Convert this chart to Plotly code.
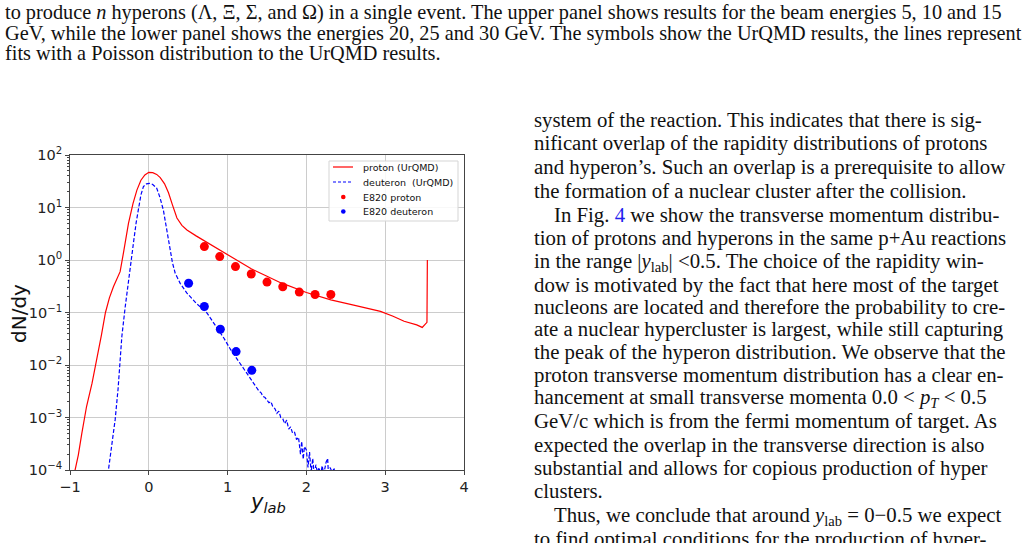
import plotly.graph_objects as go

# ---------------- data ----------------
proton_y = [-0.95, -0.936, -0.894, -0.85, -0.79, -0.72, -0.66, -0.60, -0.55, -0.50, -0.449, -0.40,
            -0.364, -0.32, -0.28, -0.258, -0.20, -0.151, -0.10, -0.05, 0.0, 0.05, 0.10, 0.145, 0.20,
            0.25, 0.30, 0.357, 0.42, 0.484, 0.60, 0.70, 0.85, 1.00, 1.15, 1.30, 1.50, 1.672, 2.00,
            2.31, 2.60, 2.94, 3.10, 3.24, 3.40, 3.47, 3.53, 3.535]
proton_dndy = [7.9e-5, 1.0e-4, 1.95e-4, 5.0e-4, 1.62e-3, 4.5e-3, 1.26e-2, 3.8e-2, 0.10, 0.19, 0.31, 0.45,
               0.60, 1.41, 3.3, 5.0, 12.0, 21.4, 33.1, 41.7, 46.8, 46.2, 42.7, 37.2, 28.2,
               19.1, 11.2, 6.3, 4.57, 3.72, 2.88, 2.34, 1.74, 1.29, 0.93, 0.68, 0.49, 0.37, 0.24,
               0.174, 0.138, 0.105, 0.085, 0.068, 0.058, 0.052, 0.065, 1.0]

deuteron_y = [-0.53, -0.512, -0.47, -0.427, -0.39, -0.364, -0.342, -0.30, -0.258, -0.22, -0.19, -0.16,
              -0.13, -0.10, -0.068, -0.03, 0.01, 0.05, 0.10, 0.14, 0.185, 0.23, 0.27, 0.30, 0.335,
              0.40, 0.484, 0.60, 0.738, 0.85, 0.95, 1.035, 1.15, 1.248, 1.30, 1.35, 1.40, 1.425,
              1.45, 1.475, 1.50, 1.525, 1.55, 1.575, 1.60, 1.625, 1.65, 1.675, 1.70, 1.725, 1.75,
              1.775, 1.80, 1.825, 1.85, 1.875, 1.90, 1.925, 1.94, 1.96, 1.975, 2.00, 2.02, 2.04,
              2.06, 2.08, 2.10, 2.12, 2.14, 2.16, 2.18, 2.20, 2.22, 2.25, 2.27, 2.28, 2.30, 2.33,
              2.35, 2.37]
deuteron_dndy = [6.3e-5, 1.0e-4, 3.2e-4, 9.1e-4, 3.5e-3, 1.1e-2, 3.5e-2, 0.126, 0.42, 1.0, 2.4, 5.2,
                 10.5, 17.4, 25.1, 28.2, 28.8, 27.5, 23.4, 15.8, 8.9, 3.8, 1.55, 0.89, 0.56,
                 0.355, 0.234, 0.151, 0.098, 0.056, 0.033, 0.020, 0.0112, 6.6e-3, 5.0e-3, 3.9e-3, 3.16e-3, 2.95e-3,
                 2.51e-3, 2.40e-3, 2.19e-3, 1.91e-3, 2.0e-3, 1.58e-3, 1.48e-3, 1.20e-3, 1.32e-3, 1.0e-3, 9.5e-4, 7.6e-4, 8.9e-4,
                 6.0e-4, 6.6e-4, 5.0e-4, 5.2e-4, 3.8e-4, 4.2e-4, 2.0e-4, 3.5e-4, 1.6e-4, 2.8e-4, 2.4e-4, 1.12e-4, 2.2e-4,
                 8.9e-5, 1.66e-4, 7.9e-5, 1.26e-4, 8.9e-5, 1.12e-4, 7.9e-5, 1.2e-4, 8.3e-5, 1.41e-4, 1.66e-4, 7.9e-5, 1.12e-4, 8.9e-5,
                 1.1e-4, 6.3e-5]

e820_proton_y = [0.705, 0.90, 1.10, 1.30, 1.50, 1.70, 1.91, 2.11, 2.31]
e820_proton_dndy = [1.80, 1.16, 0.75, 0.54, 0.38, 0.31, 0.245, 0.22, 0.22]

e820_deuteron_y = [0.505, 0.705, 0.908, 1.108, 1.307]
e820_deuteron_dndy = [0.36, 0.13, 0.048, 0.018, 0.0079]

x_ticks = [-1, 0, 1, 2, 3, 4]
x_tick_labels = ["\u22121", "0", "1", "2", "3", "4"]
y_ticks = [1e-4, 1e-3, 1e-2, 1e-1, 1e0, 1e1, 1e2]
y_tick_labels = ["10<sup>\u22124</sup>", "10<sup>\u22123</sup>", "10<sup>\u22122</sup>",
                 "10<sup>\u22121</sup>", "10<sup>0</sup>", "10<sup>1</sup>", "10<sup>2</sup>"]
y_minor = [m * 10.0 ** e for e in range(-4, 2) for m in range(2, 10)]

caption_lines = [
    "to produce <i>n</i> hyperons (\u039b, \u039e, \u03a3, and \u03a9) in a single event. The upper panel shows results for the beam energies 5, 10 and 15",
    "GeV, while the lower panel shows the energies 20, 25 and 30 GeV. The symbols show the UrQMD results, the lines represent",
    "fits with a Poisson distribution to the UrQMD results.",
]
body_lines = [
    "system of the reaction. This indicates that there is sig-",
    "nificant overlap of the rapidity distributions of protons",
    "and hyperon\u2019s. Such an overlap is a prerequisite to allow",
    "the formation of a nuclear cluster after the collision.",
    "In Fig. <span style='color:#2222ee'>4</span> we show the transverse momentum distribu-",
    "tion of protons and hyperons in the same p+Au reactions",
    "in the range |<i>y</i><sub>lab</sub>| &lt;0.5. The choice of the rapidity win-",
    "dow is motivated by the fact that here most of the target",
    "nucleons are located and therefore the probability to cre-",
    "ate a nuclear hypercluster is largest, while still capturing",
    "the peak of the hyperon distribution. We observe that the",
    "proton transverse momentum distribution has a clear en-",
    "hancement at small transverse momenta 0.0 &lt; <i>p</i><sub><i>T</i></sub> &lt; 0.5",
    "GeV/c which is from the fermi momentum of target. As",
    "expected the overlap in the transverse direction is also",
    "substantial and allows for copious production of hyper",
    "clusters.",
    "Thus, we conclude that around <i>y</i><sub>lab</sub> = 0\u22120.5 we expect",
    "to find optimal conditions for the production of hyper-",
]
body_y = [120, 143.5, 167, 190, 214.5, 238, 261.5, 284.5, 306.5, 328.5, 351.5, 375, 398,
          421, 445, 468, 490.5, 515.5, 539]
body_indent = [0, 0, 0, 0, 1, 0, 0, 0, 0, 0, 0, 0, 0, 0, 0, 0, 0, 1, 0]

# ---------------- layout geometry ----------------
W, H = 1028, 543
L, R, T, B = 70, 464, 155, 470


def px(x, y):
    return (x - L) / (R - L), (B - y) / (B - T)


fig = go.Figure()
fig.add_trace(go.Scatter(x=proton_y, y=proton_dndy, mode="lines", name="proton (UrQMD)",
                         line=dict(color="#ff0000", width=1.2), showlegend=False))
fig.add_trace(go.Scatter(x=deuteron_y, y=deuteron_dndy, mode="lines", name="deuteron  (UrQMD)",
                         line=dict(color="#0000ff", width=1.2, dash="4px,2px"), showlegend=False))
fig.add_trace(go.Scatter(x=e820_proton_y, y=e820_proton_dndy, mode="markers", name="E820 proton",
                         marker=dict(color="#ff0000", size=9), showlegend=False))
fig.add_trace(go.Scatter(x=e820_deuteron_y, y=e820_deuteron_dndy, mode="markers", name="E820 deuteron",
                         marker=dict(color="#0000ff", size=9), showlegend=False))

axis_col = "#444444"
fig.update_xaxes(range=[-1, 4], tickvals=x_ticks, ticktext=x_tick_labels, showline=True, mirror=True,
                 linecolor=axis_col, linewidth=1, ticks="outside", ticklen=4, tickcolor=axis_col,
                 showgrid=True, gridcolor="#cccccc", gridwidth=1, zeroline=False,
                 tickfont=dict(family="DejaVu Sans", size=14.5, color="#222222"))
fig.update_yaxes(type="log", range=[-4, 2], tickvals=y_ticks, ticktext=y_tick_labels, showline=True,
                 mirror=True, linecolor=axis_col, linewidth=1, ticks="outside", ticklen=4,
                 tickcolor=axis_col, showgrid=True, gridcolor="#cccccc", gridwidth=1, zeroline=False,
                 tickfont=dict(family="DejaVu Sans", size=14.5, color="#222222"),
                 minor=dict(tickmode="array", tickvals=y_minor, ticks="outside", ticklen=2,
                            tickcolor=axis_col, showgrid=False))

shapes = []
ann = []

# legend (manual)
lx0, ly0, lx1, ly1 = 329, 161, 458, 221
x0, y0 = px(lx0, ly0)
x1, y1 = px(lx1, ly1)
shapes.append(dict(type="rect", xref="paper", yref="paper", x0=x0, y0=y1, x1=x1, y1=y0,
                   line=dict(color="#d5d5d5", width=1), fillcolor="rgba(255,255,255,0.85)"))
leg_rows = [167, 182, 197, 211.5]
leg_text = ["proton (UrQMD)", "deuteron  (UrQMD)", "E820 proton", "E820 deuteron"]
for i, (yy, tt) in enumerate(zip(leg_rows, leg_text)):
    if i < 2:
        a0, b0 = px(333, yy)
        a1, _ = px(353, yy)
        shapes.append(dict(type="line", xref="paper", yref="paper", x0=a0, y0=b0, x1=a1, y1=b0,
                           line=dict(color="#ff0000" if i == 0 else "#0000ff", width=1.2,
                                     dash="solid" if i == 0 else "3px,2px")))
    else:
        c0, d0 = px(341, yy - 2.3)
        c1, d1 = px(345.6, yy + 2.3)
        col = "#ff0000" if i == 2 else "#0000ff"
        shapes.append(dict(type="circle", xref="paper", yref="paper", x0=c0, y0=d1, x1=c1, y1=d0,
                           line=dict(color=col, width=0), fillcolor=col))
    tx, ty = px(361, yy)
    ann.append(dict(text=tt, x=tx, y=ty, xref="paper", yref="paper", showarrow=False,
                    xanchor="left", yanchor="middle", font=dict(family="DejaVu Sans", size=9.5, color="#111111")))

# axis titles
ax_, ay_ = px(19, 314)
ann.append(dict(text="dN/dy", x=ax_, y=ay_, xref="paper", yref="paper", showarrow=False, textangle=-90,
                xanchor="center", yanchor="middle", font=dict(family="DejaVu Sans", size=20, color="#111111")))
bx_, by_ = px(268, 503)
ann.append(dict(text="<i>y</i><sub><i>lab</i></sub>", x=bx_, y=by_, xref="paper", yref="paper",
                showarrow=False, xanchor="center", yanchor="middle",
                font=dict(family="DejaVu Sans", size=21, color="#111111")))

# page text
cap_y = [12, 33, 53]
for t, yy in zip(caption_lines, cap_y):
    tx, ty = px(3, yy)
    ann.append(dict(text=t, x=tx, y=ty, xref="paper", yref="paper", showarrow=False, xanchor="left",
                    yanchor="middle", font=dict(family="Liberation Serif", size=20.3, color="#111111")))
for t, yy, ind in zip(body_lines, body_y, body_indent):
    tx, ty = px(532 + 20 * ind, yy)
    ann.append(dict(text=t, x=tx, y=ty, xref="paper", yref="paper", showarrow=False, xanchor="left",
                    yanchor="middle", font=dict(family="Liberation Serif", size=20.8, color="#111111")))

fig.update_layout(width=W, height=H, autosize=False, margin=dict(l=L, r=W - R, t=T, b=H - B),
                  plot_bgcolor="white", paper_bgcolor="white", shapes=shapes, annotations=ann,
                  showlegend=False)
fig.write_html("out.html")
